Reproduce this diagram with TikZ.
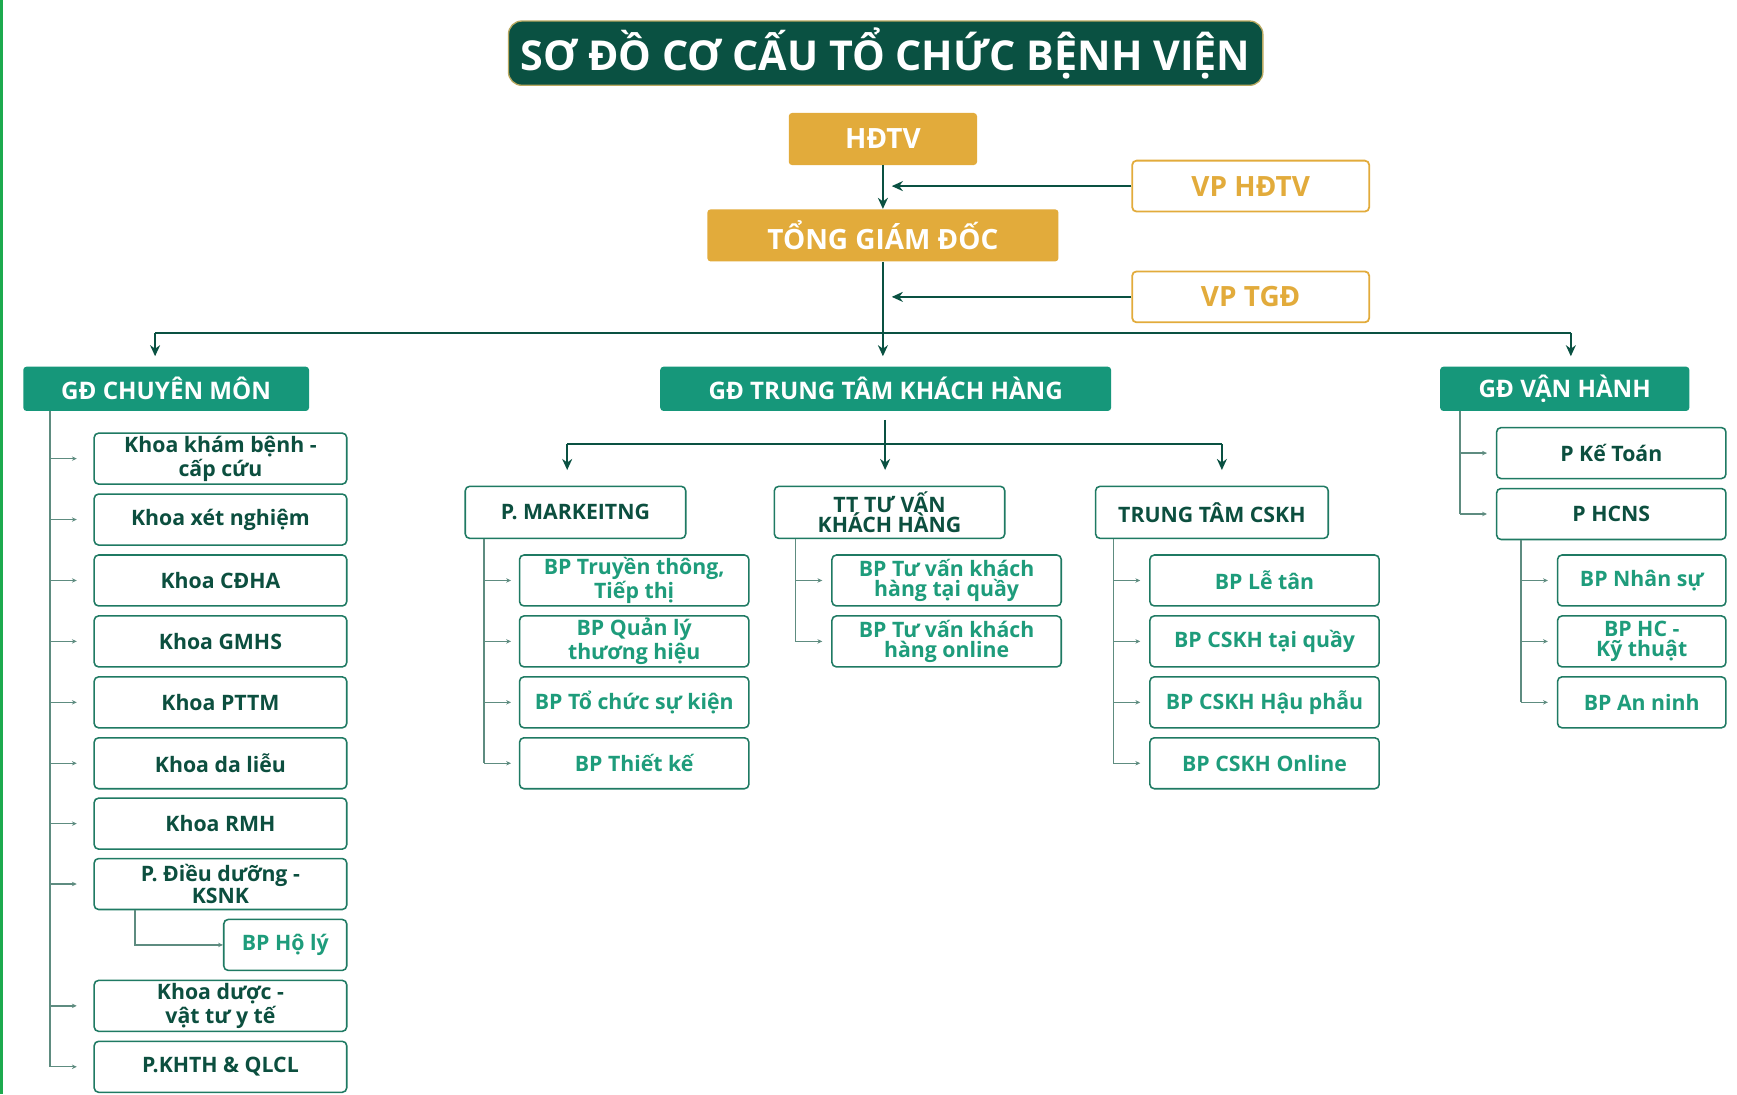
\documentclass[tikz,border=0pt]{standalone}
\usepackage{fontspec}
\setmainfont{Open Sans}
\usetikzlibrary{arrows.meta,calc}
\definecolor{dkgreen}{HTML}{0A5142}
\definecolor{gold}{HTML}{E2AB3B}
\definecolor{headteal}{HTML}{16977A}
\definecolor{dktext}{HTML}{0C4F3F}
\definecolor{lttext}{HTML}{1E9C7B}
\definecolor{boxline}{HTML}{1F7A63}
\definecolor{subline}{HTML}{5E8C80}
\definecolor{stripe}{HTML}{1DAA4E}
\definecolor{titleedge}{HTML}{B9A860}
\begin{document}
\begin{tikzpicture}[x=0.5pt,y=-0.5pt,
  titlebox/.style={fill=dkgreen,draw=titleedge,line width=0.6pt,rounded corners=6pt,text=white,
    font=\bfseries\fontsize{18.6}{20}\selectfont,minimum width=340.5pt,minimum height=29pt,inner sep=0pt},
  goldbox/.style={fill=gold,text=white,rounded corners=1.5pt,inner sep=0pt,
    font=\bfseries\fontsize{12.6}{13}\selectfont,minimum height=23.5pt},
  goldout/.style={fill=white,draw=gold,line width=0.8pt,text=gold,rounded corners=2pt,inner sep=0pt,
    font=\bfseries\fontsize{12.6}{13}\selectfont,minimum width=107pt,minimum height=23pt},
  headbox/.style={fill=headteal,text=white,rounded corners=1.5pt,inner sep=0pt,
    font=\bfseries\fontsize{10.9}{12}\selectfont,minimum height=20pt},
  cbox/.style={fill=white,draw=boxline,line width=0.7pt,rounded corners=2pt,inner sep=0pt,align=center,
    font=\bfseries\fontsize{9.6}{9.2}\selectfont,minimum height=23pt},
  dk/.style={text=dktext},
  lt/.style={text=lttext},
  mainline/.style={draw=dkgreen,line width=0.9pt},
  mainarrow/.style={draw=dkgreen,line width=0.9pt,-{Stealth[length=5pt,width=4.5pt]}},
  subarrow/.style={draw=subline,line width=0.6pt,-{Stealth[length=2.2pt,width=2pt]}},
  subline/.style={draw=subline,line width=0.6pt}
]
\useasboundingbox (0,0) rectangle (1568,988);
\fill[white] (0,0) rectangle (1568,988);
\fill[stripe] (0,0) rectangle (2.5,988);

% title and top management
\node[titlebox] (title) at (799.5,48) {SƠ ĐỒ CƠ CẤU TỔ CHỨC BỆNH VIỆN};
\node[goldbox,minimum width=85pt] (hdtv) at (797,125.5) {HĐTV};
\node[goldbox,minimum width=158.5pt] (tgd) at (797,212.5) {TỔNG GIÁM ĐỐC};
\node[goldout] (vphdtv) at (1129,168) {VP HĐTV};
\node[goldout] (vptgd) at (1129,268) {VP TGĐ};

% directors
\node[headbox,minimum width=129pt] (gdcm) at (150,351) {GĐ CHUYÊN MÔN};
\node[headbox,minimum width=203.5pt] (gdtt) at (799.5,351) {GĐ TRUNG TÂM KHÁCH HÀNG};
\node[headbox,minimum width=112.5pt] (gdvh) at (1412.5,351) {GĐ VẬN HÀNH};

% top connectors
\draw[mainarrow] (hdtv.south) -- (tgd.north);
\draw[mainarrow,shorten >=4pt] (vphdtv.west) -- (vphdtv.west -| hdtv.south);
\draw[mainarrow,shorten >=4.5pt] (tgd.south) -- (tgd.south |- gdtt.north);
\draw[mainarrow,shorten >=4pt] (vptgd.west) -- (vptgd.west -| tgd.south);
\coordinate (busL) at (140,301);
\coordinate (busR) at (1418,301);
\draw[mainline] (busL) -- (busR);
\draw[mainarrow,shorten >=4.5pt] (busL) -- (busL |- gdcm.north);
\draw[mainarrow,shorten >=4.5pt] (busR) -- (busR |- gdvh.north);

% clinical departments
\node[cbox,dk,minimum width=114pt] (k1) at (199,414) {Khoa khám bệnh -\\cấp cứu};
\node[cbox,dk,minimum width=114pt] (k2) at (199,469) {Khoa xét nghiệm};
\node[cbox,dk,minimum width=114pt] (k3) at (199,524) {Khoa CĐHA};
\node[cbox,dk,minimum width=114pt] (k4) at (199,579) {Khoa GMHS};
\node[cbox,dk,minimum width=114pt] (k5) at (199,634) {Khoa PTTM};
\node[cbox,dk,minimum width=114pt] (k6) at (199,689) {Khoa da liễu};
\node[cbox,dk,minimum width=114pt] (k7) at (199,743.5) {Khoa RMH};
\node[cbox,dk,minimum width=114pt] (k8) at (199,798) {P. Điều dưỡng -\\KSNK};
\node[cbox,lt,minimum width=55.5pt] (holy) at (257.5,853) {BP Hộ lý};
\node[cbox,dk,minimum width=114pt] (k9) at (199,908) {Khoa dược -\\vật tư y tế};
\node[cbox,dk,minimum width=114pt] (k10) at (199,963) {P.KHTH \& QLCL};

\coordinate (lv) at (45,0);
\draw[subline] (lv |- gdcm.south) -- (lv |- k10.west);
\foreach \k in {k1,k2,k3,k4,k5,k6,k7,k8,k9,k10}
  \draw[subarrow,shorten >=7.5pt] (lv |- \k.west) -- (\k.west);
\coordinate (hv) at (122,0);
\draw[subarrow] (hv |- k8.south) |- (holy.west);

% customer centre
\node[cbox,dk,minimum width=99.5pt,minimum height=23.5pt] (mkt) at (519.5,462.5) {P. MARKEITNG};
\node[cbox,dk,minimum width=104pt,minimum height=23.5pt] (ttv) at (803,462.5) {TT TƯ VẤN\\KHÁCH HÀNG};
\node[cbox,dk,minimum width=105pt,minimum height=23.5pt] (cskh) at (1094,462.5) {TRUNG TÂM CSKH};

\coordinate (m0) at (799,379);
\coordinate (mL) at (512,401);
\coordinate (mR) at (1103,401);
\draw[mainline] (mL) -- (mR);
\draw[mainarrow,shorten >=7pt] (m0) -- (m0 |- ttv.north);
\draw[mainarrow,shorten >=7pt] (mL) -- (mL |- mkt.north);
\draw[mainarrow,shorten >=7pt] (mR) -- (mR |- cskh.north);

\node[cbox,lt,minimum width=103.5pt] (mk1) at (572.5,524) {BP Truyền thông,\\Tiếp thị};
\node[cbox,lt,minimum width=103.5pt] (mk2) at (572.5,579) {BP Quản lý\\thương hiệu};
\node[cbox,lt,minimum width=103.5pt] (mk3) at (572.5,634) {BP Tổ chức sự kiện};
\node[cbox,lt,minimum width=103.5pt] (mk4) at (572.5,689) {BP Thiết kế};
\coordinate (mv) at (437,0);
\draw[subline] (mv |- mkt.south) -- (mv |- mk4.west);
\foreach \k in {mk1,mk2,mk3,mk4}
  \draw[subarrow,shorten >=3.5pt] (mv |- \k.west) -- (\k.west);

\node[cbox,lt,minimum width=103.5pt] (tv1) at (854.5,524) {BP Tư vấn khách\\hàng tại quầy};
\node[cbox,lt,minimum width=103.5pt] (tv2) at (854.5,579) {BP Tư vấn khách\\hàng online};
\coordinate (tvv) at (718,0);
\draw[subline] (tvv |- ttv.south) -- (tvv |- tv2.west);
\foreach \k in {tv1,tv2}
  \draw[subarrow,shorten >=4pt] (tvv |- \k.west) -- (\k.west);

\node[cbox,lt,minimum width=103.5pt] (cs1) at (1141.5,524) {BP Lễ tân};
\node[cbox,lt,minimum width=103.5pt] (cs2) at (1141.5,579) {BP CSKH tại quầy};
\node[cbox,lt,minimum width=103.5pt] (cs3) at (1141.5,634) {BP CSKH Hậu phẫu};
\node[cbox,lt,minimum width=103.5pt] (cs4) at (1141.5,689) {BP CSKH Online};
\coordinate (csv) at (1005,0);
\draw[subline] (csv |- cskh.south) -- (csv |- cs4.west);
\foreach \k in {cs1,cs2,cs3,cs4}
  \draw[subarrow,shorten >=4pt] (csv |- \k.west) -- (\k.west);

% operations
\node[cbox,dk,minimum width=103.5pt] (kt) at (1454.5,409) {P Kế Toán};
\node[cbox,dk,minimum width=103.5pt] (hcns) at (1454.5,464) {P HCNS};
\coordinate (vhv) at (1318,0);
\draw[subline] (vhv |- gdvh.south) -- (vhv |- hcns.west);
\foreach \k in {kt,hcns}
  \draw[subarrow,shorten >=4pt] (vhv |- \k.west) -- (\k.west);

\node[cbox,lt,minimum width=76pt] (ns) at (1482,524) {BP Nhân sự};
\node[cbox,lt,minimum width=76pt] (hc) at (1482,579) {BP HC -\\Kỹ thuật};
\node[cbox,lt,minimum width=76pt] (an) at (1482,634) {BP An ninh};
\coordinate (hnv) at (1373,0);
\draw[subline] (hnv |- hcns.south) -- (hnv |- an.west);
\foreach \k in {ns,hc,an}
  \draw[subarrow,shorten >=4pt] (hnv |- \k.west) -- (\k.west);
\end{tikzpicture}
\end{document}
